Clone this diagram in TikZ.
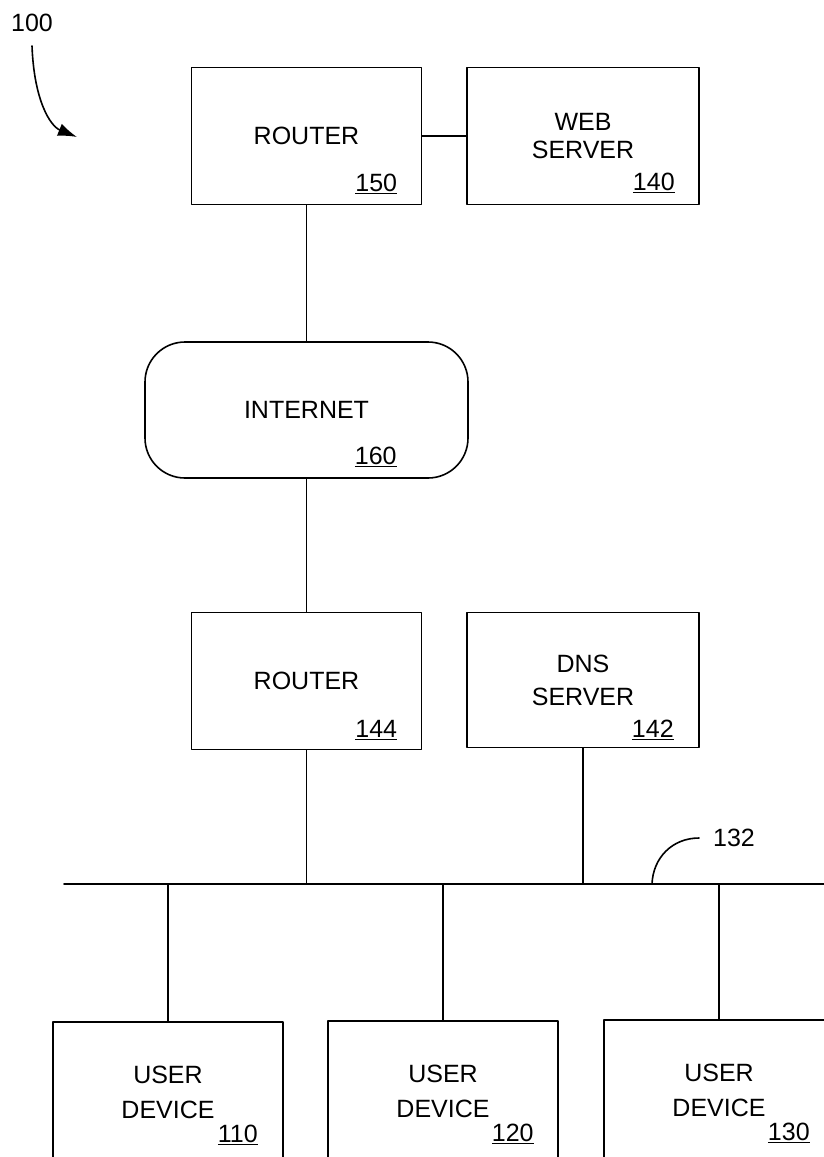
\documentclass[tikz,border=0pt]{standalone}
\usepackage{fontspec}
\setmainfont{Liberation Sans}
\usepackage{tikz}
\usetikzlibrary{arrows.meta,positioning}
\tikzset{
  netbox/.style={draw, minimum width=230pt, minimum height=137pt, inner sep=0pt,
    align=center, font=\fontsize{25}{28}\selectfont},
  cloudbox/.style={netbox, rounded corners=40pt, minimum width=323pt, minimum height=136pt},
  devbox/.style={netbox, minimum height=140pt},
  reflbl/.style={anchor=base, inner sep=0pt, font=\fontsize{25}{28}\selectfont},
  taglbl/.style={inner sep=0pt, outer sep=14pt, font=\fontsize{25}{28}\selectfont},
  every picture/.style={line cap=round, line join=round}
}

\begin{document}
\begin{tikzpicture}[x=1pt, y=-1pt, line width=1.6pt]
  \useasboundingbox (0,0) rectangle (824,1157);
  % upper side
  \node[netbox] (r150) at (306.5,136) {ROUTER};
  \node[netbox, minimum width=232pt] (ws140) at (583,136) {WEB\\SERVER};
  \node[cloudbox] (inet) at (306.5,410) {INTERNET};
  % local side
  \node[netbox] (r144) at (306.5,681) {ROUTER};
  \node[netbox, minimum width=232pt, minimum height=135pt] (dns142) at (583,680) {DNS\\[5pt]SERVER};
  \node[devbox] (ud110) at (168,1092) {USER\\[7pt]DEVICE};
  \node[devbox] (ud120) at (443,1091) {USER\\[7pt]DEVICE};
  \node[devbox] (ud130) at (719,1090) {USER\\[7pt]DEVICE};
  % reference numbers
  \node[reflbl] (n150) at ([xshift=-46pt,yshift=14pt]r150.south east) {\underline{150}};
  \node[reflbl] (n140) at ([xshift=-46pt,yshift=15pt]ws140.south east) {\underline{140}};
  \node[reflbl] (n160) at ([xshift=-93pt,yshift=14pt]inet.south east) {\underline{160}};
  \node[reflbl] (n144) at ([xshift=-46pt,yshift=13pt]r144.south east) {\underline{144}};
  \node[reflbl] (n142) at ([xshift=-47pt,yshift=11pt]dns142.south east) {\underline{142}};
  \node[reflbl] (n110) at ([xshift=-46pt,yshift=-121pt]ud110.north east) {\underline{110}};
  \node[reflbl] (n120) at ([xshift=-46pt,yshift=-121pt]ud120.north east) {\underline{120}};
  \node[reflbl] (n130) at ([xshift=-46pt,yshift=-121pt]ud130.north east) {\underline{130}};
  % links
  \draw (r150) -- (ws140);
  \draw (r150) -- (inet);
  \draw (inet) -- (r144);
  \coordinate (busL) at (64,884);
  \coordinate (busR) at (824,884);
  \draw (busL) -- (busR);
  \draw (r144) -- (r144 |- busL);
  \draw (dns142) -- (dns142 |- busL);
  \draw (ud110) -- (ud110 |- busL);
  \draw (ud120) -- (ud120 |- busL);
  \draw (ud130) -- (ud130 |- busL);
  % tags
  \node[taglbl] (lbl100) at (32,23) {100};
  \coordinate (tip100) at (77,137);
  \draw[-{Latex[length=19pt,width=13pt]}] (lbl100.south) .. controls (34,100) and (50,126) .. (tip100);
  \node[taglbl] (lbl132) at (734,838) {132};
  \coordinate (tap132) at (652,884);
  \draw (tap132) .. controls (653,858) and (672,838) .. (lbl132.west);
\end{tikzpicture}
\end{document}
